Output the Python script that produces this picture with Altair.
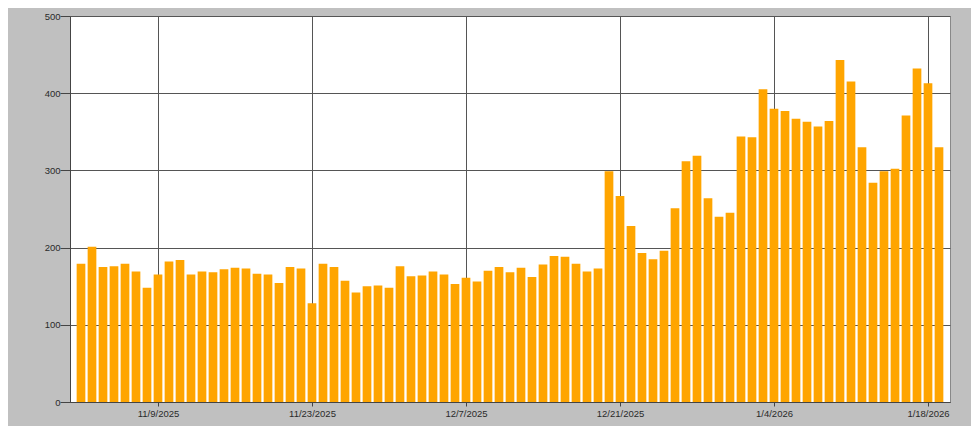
import altair as alt
import pandas as pd

start_date = "2025-11-02"
values = [
    179, 201, 175, 176, 179, 169, 148, 165, 182, 184,
    165, 169, 168, 172, 174, 173, 166, 165, 154, 175,
    173, 128, 179, 175, 157, 142, 150, 151, 148, 176,
    163, 164, 169, 165, 153, 161, 156, 170, 175, 168,
    174, 162, 178, 189, 188, 179, 169, 173, 299, 267,
    228, 193, 185, 196, 251, 312, 319, 264, 240, 245,
    344, 343, 405, 380, 377, 367, 363, 357, 364, 443,
    415, 330, 284, 299, 302, 371, 432, 413, 330,
]
tick_dates = [(2025, 11, 9), (2025, 11, 23), (2025, 12, 7), (2025, 12, 21), (2026, 1, 4), (2026, 1, 18)]
y_ticks = [0, 100, 200, 300, 400, 500]

dates = pd.date_range(start_date, periods=len(values), freq="D")
df = pd.DataFrame({"date": [d.strftime("%Y-%m-%dT00:00:00") for d in dates], "value": values})

font = "Liberation Sans"

chart = alt.Chart(df).mark_bar(color="#FFA500", width=8.7).encode(
    x=alt.X(
        "date:T",
        scale=alt.Scale(domain=[alt.DateTime(year=2025, month=11, date=1),
                                alt.DateTime(year=2026, month=1, date=20)],
                        padding=0, nice=False),
        axis=alt.Axis(
            title=None,
            values=[alt.DateTime(year=y, month=m, date=d) for (y, m, d) in tick_dates],
            format="%-m/%-d/%Y",
            labelFont=font, labelFontSize=9.5, labelColor="#2a2a2a",
            tickSize=4, tickColor="#444444", labelPadding=2,
            domainColor="#444444",
            grid=True, gridColor="#555555", gridWidth=1,
            labelFlush=False,
        ),
    ),
    y=alt.Y(
        "value:Q",
        scale=alt.Scale(domain=[0, 500], nice=False),
        axis=alt.Axis(
            title=None, values=y_ticks,
            labelFont=font, labelFontSize=9.5, labelColor="#2a2a2a",
            tickSize=10, tickColor="#444444", labelPadding=0,
            domainColor="#444444",
            grid=True, gridColor="#555555", gridWidth=1,
        ),
    ),
).properties(
    width=880,
    height=386,
    background="#C0C0C0",
    padding={"left": 62, "top": 8, "right": 21, "bottom": 24},
    autosize=alt.AutoSizeParams(type="none"),
).configure_view(
    fill="white", stroke="#888888", strokeWidth=1
)

chart.save("out.html", embed_options={"renderer": "svg", "actions": False})
